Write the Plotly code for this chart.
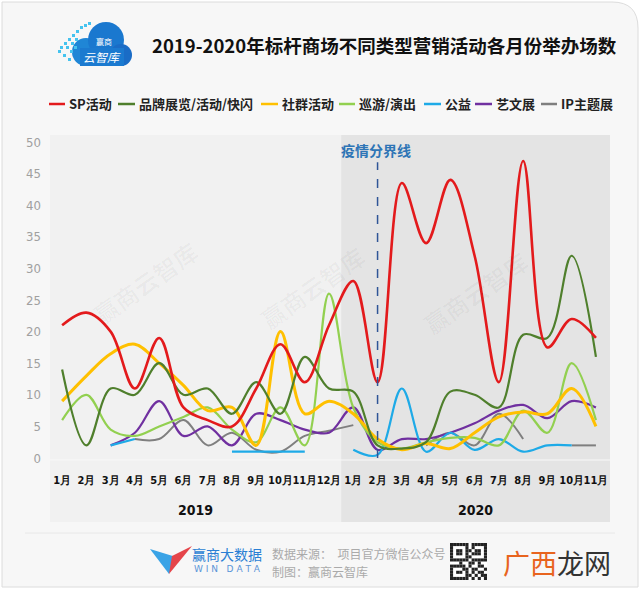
import plotly.graph_objects as go

# ---------------- data ----------------
months = ["1月", "2月", "3月", "4月", "5月", "6月", "7月", "8月", "9月", "10月", "11月", "12月",
          "1月", "2月", "3月", "4月", "5月", "6月", "7月", "8月", "9月", "10月", "11月"]
years = ["2019", "2020"]

sp_activity = [21, 23, 20, 11, 19, 8, 6, 5, 11, 18, 12, 21,
               28, 12, 43.5, 34, 44, 32, 12, 47, 17.5, 22, 19]
brand_show = [14, 2, 11, 10, 15, 10, 11, 7, 12, 7, 16, 11,
              10.5, 2, 1.5, 2.5, 10.5, 10, 8, 19.5, 19, 32, 16]
community = [9, 13, 16.5, 18, 15, 11.5, 7.5, 8, 2, 20, 7, 9,
             7, 3, 1.3, 2.3, 1.5, 4, 6.5, 7.3, 7, 11, 5]
parade_show = [6, 10, 4.5, 3.5, 5, 6.5, 8, 4.5, 2.5, 8, 2, 26,
               8, 2.5, 1.5, 2.5, 3.2, 3.2, 2, 7.5, 4, 15, 6]
public_welfare = [None, None, 2, 3, None, None, None, 1, 1, 1, 1, None,
                  1.3, 0.5, 11, 1, 4, 1.3, 3, 1, 2, 2, None]
art_show = [None, None, 2, 4, 9, 3.5, 5, 2, 7, 6, 4.5, 4,
            8, 1.3, 3, 3, 4, 5.5, 7.5, 8.4, 6.3, 9, 8]
ip_show = [None, None, None, 3, 3, 6, 2, 4, 1.3, 1, 3.5, 4.3,
           5.2, None, None, 2, 4, 2, 7, 3, None, 2, 2]

series_names = ["SP活动", "品牌展览/活动/快闪", "社群活动", "巡游/演出", "公益", "艺文展", "IP主题展"]
series_values = [sp_activity, brand_show, community, parade_show, public_welfare, art_show, ip_show]
series_colors = ["#e31a1c", "#4f7f2c", "#ffc000", "#92d050", "#1eaae7", "#7030a0", "#7f7f7f"]
series_widths = [2.6, 2.2, 3.0, 2.2, 2.2, 2.2, 2.0]

y_ticks = list(range(0, 51, 5))
x_idx = list(range(len(months)))

# ---------------- geometry helpers ----------------
W, H = 640, 589
ML, MR, MT, MB = 50, 30, 137, 127
PW, PH = W - ML - MR, H - MT - MB
CJK = "Noto Sans CJK SC"
NARROW = "Liberation Sans Narrow, DejaVu Sans Condensed, sans-serif"


def px(xp):
    return (xp - ML) / PW


def py(yp):
    return (H - MB - yp) / PH


def ann(x, y, text, size, color, family=CJK, xref="paper", yref="paper", xanchor="center", **kw):
    return dict(xref=xref, yref=yref, x=x, y=y, text=text, showarrow=False,
                xanchor=xanchor, yanchor="middle",
                font=dict(size=size, color=color, family=family), **kw)


fig = go.Figure()

# draw in reverse so red is on top
for name, vals, col, wd in reversed(list(zip(series_names, series_values, series_colors, series_widths))):
    fig.add_trace(go.Scatter(
        x=x_idx, y=vals, name=name, mode="lines",
        line=dict(color=col, width=wd, shape="spline", smoothing=1.0),
        connectgaps=False, showlegend=False, hoverinfo="skip"))

shapes = []
annotations = []

# card border
shapes.append(dict(type="path", xref="paper", yref="paper",
                   path=f"M {px(2)},{py(2)} L {px(612)},{py(2)} Q {px(638)},{py(2)} {px(638)},{py(28)} "
                        f"L {px(638)},{py(587)} L {px(2)},{py(587)} Z",
                   line=dict(color="#dcdcdc", width=1), fillcolor="#f7f7f7", layer="below"))

# plot backgrounds
shapes.append(dict(type="rect", xref="x", yref="paper", x0=-0.5, x1=11.5, y0=py(522), y1=py(135),
                   fillcolor="#f1f1f1", line=dict(width=0), layer="below"))
shapes.append(dict(type="rect", xref="x", yref="paper", x0=11.5, x1=22.58, y0=py(522), y1=py(135),
                   fillcolor="#e4e4e4", line=dict(width=0), layer="below"))
shapes.append(dict(type="line", xref="x", yref="paper", x0=-0.5, x1=22.58, y0=py(460), y1=py(460),
                   line=dict(color="#f8f8f8", width=1), layer="below"))

# epidemic divider
shapes.append(dict(type="line", xref="x", yref="y", x0=13, x1=13, y0=0, y1=46.8,
                   line=dict(color="#2f5597", width=1.5, dash="dash")))
annotations.append(ann(12.95, 48.7, "<b>疫情分界线</b>", 14, "#2e75b6", xref="x", yref="y"))

# year labels
for yr, cx in zip(years, [5.5, 17.04]):
    annotations.append(ann(cx, py(510), f"<b>{yr}</b>", 14, "#111", family="DejaVu Sans Condensed",
                           xref="x"))

# title
annotations.append(ann(px(384.5), py(45), "<b>2019-2020年标杆商场不同类型营销活动各月份举办场数</b>",
                       18.5, "#111"))

# manual legend
leg_lines = [(49, 65), (118, 135), (261, 278), (339, 355), (424, 441), (475, 492), (541, 557)]
for (x0, x1), name, col in zip(leg_lines, series_names, series_colors):
    shapes.append(dict(type="line", xref="paper", yref="paper", x0=px(x0), x1=px(x1), y0=py(104), y1=py(104),
                       line=dict(color=col, width=2.5)))
    annotations.append(ann(px(x1 + 2), py(104), f"<b>{name}</b>", 13, "#222", xanchor="left"))

# logo cloud (top-left)
for cx, cy, r, c in [(86, 52, 14, "#1f86d6"), (106, 40, 18, "#1a78cf"), (121, 55, 11, "#1a6cc6")]:
    shapes.append(dict(type="circle", xref="paper", yref="paper", x0=px(cx - r), x1=px(cx + r),
                       y0=py(cy + r), y1=py(cy - r), fillcolor=c, line=dict(width=0)))
shapes.append(dict(type="rect", xref="paper", yref="paper", x0=px(80), x1=px(124), y0=py(66), y1=py(48),
                   fillcolor="#1b7ad0", line=dict(width=0)))
for (sx, sy) in [(60, 46), (64, 42), (68, 38), (72, 34), (76, 30), (80, 26), (84, 24), (88, 22),
                 (58, 50), (63, 54), (68, 58), (66, 46), (71, 42), (75, 38), (70, 50), (74, 46)]:
    shapes.append(dict(type="rect", xref="paper", yref="paper", x0=px(sx), x1=px(sx + 3), y0=py(sy + 3), y1=py(sy),
                       fillcolor="#45c3ef", line=dict(width=0)))
annotations.append(ann(px(104), py(41), "赢商", 8, "white"))
annotations.append(ann(px(102), py(56), "<i>云智库</i>", 12, "white"))

# watermarks
for wx, wy in [(145, 282), (312, 287), (475, 292)]:
    annotations.append(ann(px(wx), py(wy), "<b>赢商云智库</b>", 24, "rgba(0,0,0,0.03)", textangle=-35))

# footer
shapes.append(dict(type="line", xref="paper", yref="paper", x0=px(25), x1=px(615), y0=py(533), y1=py(533),
                   line=dict(color="#e8e8e8", width=1)))
shapes.append(dict(type="path", xref="paper", yref="paper",
                   path=f"M {px(150)},{py(549)} L {px(176)},{py(557)} L {px(169)},{py(574)} Z",
                   fillcolor="#3aa3e6", line=dict(width=0)))
shapes.append(dict(type="path", xref="paper", yref="paper",
                   path=f"M {px(192)},{py(546)} L {px(169)},{py(574)} L {px(172)},{py(556)} Z",
                   fillcolor="#e5454a", line=dict(width=0)))
annotations.append(ann(px(227), py(554), "赢商大数据", 14, "#2a7fd4"))
annotations.append(ann(px(227), py(569), "W I N   D A T A", 9, "#5a95d8", family="DejaVu Sans"))
annotations.append(ann(px(270), py(553), "数据来源：  项目官方微信公众号", 12, "#aaaaaa", xanchor="left"))
annotations.append(ann(px(270), py(571), "制图：赢商云智库", 12, "#aaaaaa", xanchor="left"))
# QR code sketch
qr_x0, qr_y0, cell = 450, 543, 37 / 12
shapes.append(dict(type="rect", xref="paper", yref="paper", x0=px(qr_x0), x1=px(qr_x0 + 37),
                   y0=py(qr_y0 + 37), y1=py(qr_y0), fillcolor="white", line=dict(width=0)))
qr_pattern = [
    "111111011111",
    "100001010001",
    "101101101101",
    "101101011101",
    "100001100001",
    "111111011111",
    "000100110100",
    "111110100110",
    "100011011001",
    "101101010110",
    "100001101011",
    "111111010101",
]
for r, row in enumerate(qr_pattern):
    for c, ch in enumerate(row):
        if ch == "1":
            shapes.append(dict(type="rect", xref="paper", yref="paper",
                               x0=px(qr_x0 + c * cell), x1=px(qr_x0 + (c + 1) * cell),
                               y0=py(qr_y0 + (r + 1) * cell), y1=py(qr_y0 + r * cell),
                               fillcolor="#222", line=dict(width=0)))
annotations.append(ann(px(557), py(562),
                       "<span style='color:#e8641e'>广西</span><span style='color:#333'>龙网</span>",
                       27, "#333"))

fig.update_layout(
    width=W, height=H,
    margin=dict(l=ML, r=MR, t=MT, b=MB, autoexpand=False),
    paper_bgcolor="white", plot_bgcolor="rgba(0,0,0,0)",
    shapes=shapes, annotations=annotations,
    xaxis=dict(range=[-0.5, 22.58], tickmode="array", tickvals=x_idx, tickangle=0,
               ticktext=[f"<b>{m}</b>" for m in months], showgrid=False, zeroline=False, showline=False,
               ticks="", ticklabelstandoff=10, fixedrange=True, automargin=False,
               tickfont=dict(size=11, color="#111", family=NARROW)),
    yaxis=dict(range=[-0.63, 50.79], tickmode="array", tickvals=y_ticks, showgrid=False, zeroline=False,
               showline=False, ticks="", ticklabelstandoff=8, fixedrange=True, automargin=False,
               tickfont=dict(size=13, color="#a0a0a0", family="DejaVu Sans Condensed")),
    showlegend=False,
)

fig.write_html("out.html")
